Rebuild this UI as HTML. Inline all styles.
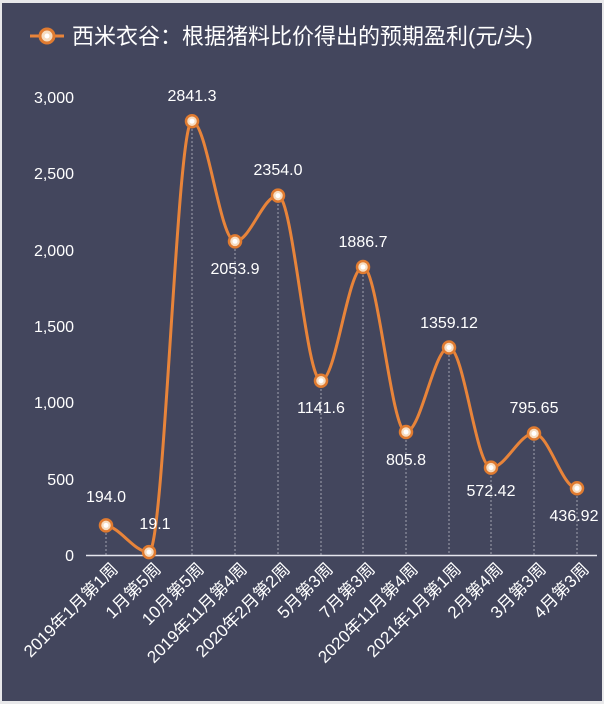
<!DOCTYPE html>
<html><head><meta charset="utf-8"><style>
html,body{margin:0;padding:0;background:#fff;}
svg{display:block;font-family:"Liberation Sans","Noto Sans CJK SC",sans-serif;}
</style></head><body>
<svg width="604" height="704" viewBox="0 0 604 704">
<rect x="0" y="0" width="604" height="704" fill="#e8e8ea"/>
<rect x="2" y="3" width="600" height="698" fill="#43465d"/>
<g>
<line x1="30" y1="36" x2="64" y2="36" stroke="#e8843a" stroke-width="3"/>
<circle cx="47" cy="36" r="7" fill="#f6dcc0" stroke="#e07b30" stroke-width="3"/>
<circle cx="47" cy="36" r="2.5" fill="#fff"/>
<text x="72" y="44" font-size="22" fill="#fff">西米衣谷：根据猪料比价得出的预期盈利(元/头)</text>
</g>
<g font-size="16" fill="#fff" text-anchor="end">
<text x="74" y="103">3,000</text>
<text x="74" y="179">2,500</text>
<text x="74" y="256">2,000</text>
<text x="74" y="332">1,500</text>
<text x="74" y="408">1,000</text>
<text x="74" y="485">500</text>
<text x="74" y="561">0</text>
</g>
<g stroke="#c8c8d4" stroke-width="1" stroke-dasharray="2,2" opacity="0.7">
<line x1="106" y1="525" x2="106" y2="555"/>
<line x1="192" y1="121" x2="192" y2="555"/>
<line x1="235" y1="241" x2="235" y2="555"/>
<line x1="278" y1="196" x2="278" y2="555"/>
<line x1="321" y1="381" x2="321" y2="555"/>
<line x1="363" y1="267" x2="363" y2="555"/>
<line x1="406" y1="432" x2="406" y2="555"/>
<line x1="449" y1="347" x2="449" y2="555"/>
<line x1="491" y1="468" x2="491" y2="555"/>
<line x1="534" y1="433" x2="534" y2="555"/>
<line x1="577" y1="488" x2="577" y2="555"/>
</g>
<line x1="86" y1="555.5" x2="597" y2="555.5" stroke="#e6e6ee" stroke-width="1.5"/>
<path fill="none" stroke="#e8843a" stroke-width="3" d="M106,525.4 C121,528 134,552.1 149,552.1 C164,552.1 177,121.2 192,121.2 C207,121.2 220,241.4 235,241.4 C250,241.4 263,195.6 278,195.6 C293,195.6 306,380.7 321,380.7 C336,380.7 348,267 363,267 C378,267 391,432 406,432 C421,432 434,347.5 449,347.5 C464,347.5 476,467.6 491,467.6 C506,467.6 519,433.5 534,433.5 C549,433.5 562,488.3 577,488.3"/>
<g fill="#f6dcc0" stroke="#e07b30" stroke-width="2.5">
<circle cx="106" cy="525.4" r="6"/><circle cx="149" cy="552.1" r="6"/><circle cx="192" cy="121.2" r="6"/><circle cx="235" cy="241.4" r="6"/><circle cx="278" cy="195.6" r="6"/><circle cx="321" cy="380.7" r="6"/><circle cx="363" cy="267" r="6"/><circle cx="406" cy="432" r="6"/><circle cx="449" cy="347.5" r="6"/><circle cx="491" cy="467.6" r="6"/><circle cx="534" cy="433.5" r="6"/><circle cx="577" cy="488.3" r="6"/>
</g>
<g fill="#fff">
<circle cx="106" cy="525.4" r="2.5"/><circle cx="149" cy="552.1" r="2.5"/><circle cx="192" cy="121.2" r="2.5"/><circle cx="235" cy="241.4" r="2.5"/><circle cx="278" cy="195.6" r="2.5"/><circle cx="321" cy="380.7" r="2.5"/><circle cx="363" cy="267" r="2.5"/><circle cx="406" cy="432" r="2.5"/><circle cx="449" cy="347.5" r="2.5"/><circle cx="491" cy="467.6" r="2.5"/><circle cx="534" cy="433.5" r="2.5"/><circle cx="577" cy="488.3" r="2.5"/>
</g>
<g font-size="16" fill="#fff" text-anchor="middle">
<text x="106" y="502">194.0</text>
<text x="155" y="529">19.1</text>
<text x="192" y="101">2841.3</text>
<text x="235" y="274">2053.9</text>
<text x="278" y="175">2354.0</text>
<text x="321" y="413">1141.6</text>
<text x="363" y="247">1886.7</text>
<text x="406" y="465">805.8</text>
<text x="449" y="328">1359.12</text>
<text x="491" y="496">572.42</text>
<text x="534" y="413">795.65</text>
<text x="574" y="521">436.92</text>
</g>
<g font-size="17" fill="#fff" text-anchor="end">
<text transform="translate(119,570) rotate(-45)">2019年1月第1周</text>
<text transform="translate(162,570) rotate(-45)">1月第5周</text>
<text transform="translate(205,570) rotate(-45)">10月第5周</text>
<text transform="translate(248,570) rotate(-45)">2019年11月第4周</text>
<text transform="translate(291,570) rotate(-45)">2020年2月第2周</text>
<text transform="translate(334,570) rotate(-45)">5月第3周</text>
<text transform="translate(376,570) rotate(-45)">7月第3周</text>
<text transform="translate(419,570) rotate(-45)">2020年11月第4周</text>
<text transform="translate(462,570) rotate(-45)">2021年1月第1周</text>
<text transform="translate(504,570) rotate(-45)">2月第4周</text>
<text transform="translate(547,570) rotate(-45)">3月第3周</text>
<text transform="translate(590,570) rotate(-45)">4月第3周</text>
</g>
</svg>
</body></html>
